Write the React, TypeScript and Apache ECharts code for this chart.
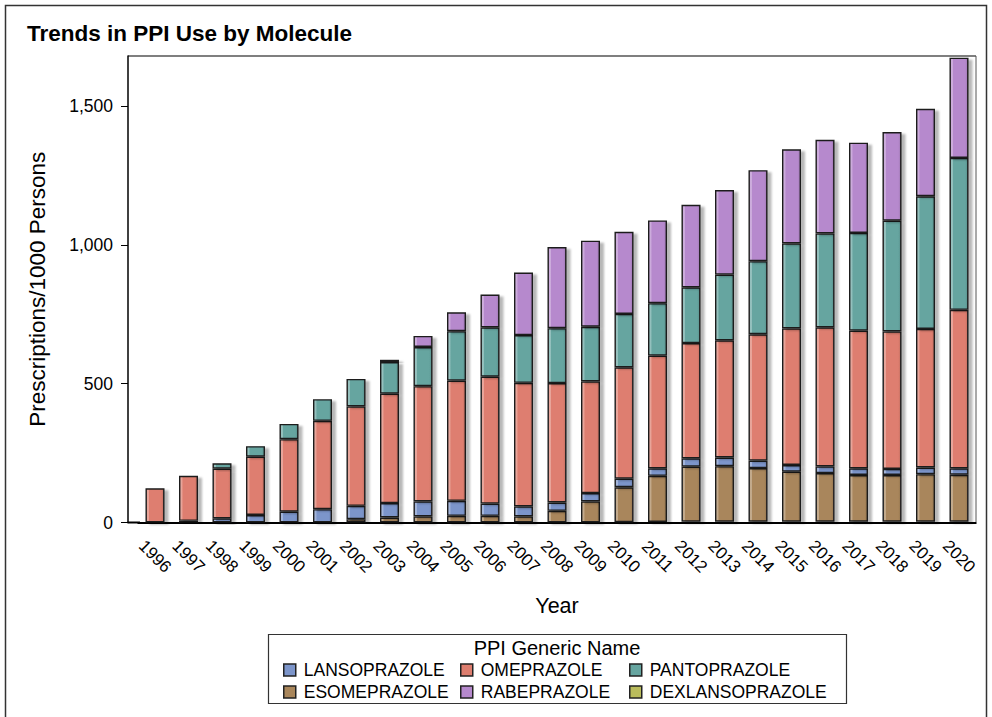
import { useEffect, useRef } from 'react';
import * as echarts from 'echarts';

const years = ['1996','1997','1998','1999','2000','2001','2002','2003','2004','2005','2006','2007','2008','2009','2010','2011','2012','2013','2014','2015','2016','2017','2018','2019','2020'];

const dexlansoprazole = [0,0,0,0,0,0,0,0,0,0,0,0,0,0,1,2,3,3,3,3,3,3,3,3,3];
const esomeprazole = [0,0,0,0,0,0,12,18,22,24,24,22,42,76,126,166,198,200,193,180,175,168,168,171,169];
const lansoprazole = [0,6,15,27,39,48,48,52,54,54,44,36,30,30,31,27,30,31,27,24,24,24,22,24,23];
const omeprazole = [123,162,179,210,261,318,358,394,415,433,457,445,430,402,401,406,415,422,455,492,501,496,495,499,571];
const pantoprazole = [0,0,19,38,55,78,99,114,141,178,178,172,198,197,192,189,201,237,263,306,338,352,399,478,547];
const rabeprazole = [0,0,0,0,0,0,0,8,40,68,118,225,292,310,296,298,297,304,328,339,337,325,319,315,361];

const yTicks = [0, 500, 1000, 1500];

const legendColumns = [
  ['LANSOPRAZOLE', 'ESOMEPRAZOLE'],
  ['OMEPRAZOLE', 'RABEPRAZOLE'],
  ['PANTOPRAZOLE', 'DEXLANSOPRAZOLE'],
];

const FONT = '"Liberation Sans", Arial, Helvetica, sans-serif';

function mix(hex: string, target: number, amt: number) {
  const n = parseInt(hex.slice(1), 16);
  const r = (n >> 16) & 255, g = (n >> 8) & 255, b = n & 255;
  const f = (c: number) => Math.round(c + (target - c) * amt);
  return `rgb(${f(r)},${f(g)},${f(b)})`;
}

function fill(base: string) {
  return new echarts.graphic.LinearGradient(0, 0, 1, 0, [
    { offset: 0, color: mix(base, 255, 0.3) },
    { offset: 0.13, color: mix(base, 255, 0.3) },
    { offset: 0.18, color: base },
    { offset: 0.85, color: base },
    { offset: 1, color: mix(base, 0, 0.12) },
  ]);
}

export default function App() {
  const ref = useRef<HTMLDivElement>(null);
  useEffect(() => {
    if (!ref.current) return;
    const chart = echarts.init(ref.current, undefined, { renderer: 'svg' });

    const defs = [
      { name: 'DEXLANSOPRAZOLE', data: dexlansoprazole, color: '#BABC5C' },
      { name: 'ESOMEPRAZOLE', data: esomeprazole, color: '#A9865B' },
      { name: 'LANSOPRAZOLE', data: lansoprazole, color: '#7C95CA' },
      { name: 'OMEPRAZOLE', data: omeprazole, color: '#DE7E6F' },
      { name: 'PANTOPRAZOLE', data: pantoprazole, color: '#66A5A0' },
      { name: 'RABEPRAZOLE', data: rabeprazole, color: '#B689CD' },
    ];

    const series = defs.map((d) => ({
      type: 'bar',
      name: d.name,
      stack: 'total',
      barWidth: 19,
      data: d.data.map((v) => (v === 0 ? null : v)),
      itemStyle: {
        color: fill(d.color),
        borderColor: '#1c1c1c',
        borderWidth: 1.4,
        shadowColor: 'rgba(0,0,0,0.28)',
        shadowBlur: 2,
        shadowOffsetX: 4,
        shadowOffsetY: 2,
      },
      emphasis: { disabled: true },
    }));

    const colorOf: Record<string, string> = {};
    defs.forEach((d) => (colorOf[d.name] = d.color));

    const legendLefts = [278, 455, 624];
    const legends = legendColumns.map((col, i) => ({
      orient: 'vertical',
      left: legendLefts[i],
      top: 656,
      itemWidth: 12,
      itemHeight: 12,
      itemGap: 4,
      icon: 'rect',
      selectedMode: false,
      data: col.map((n) => ({
        name: n,
        itemStyle: { color: colorOf[n], borderColor: '#222', borderWidth: 1.5, shadowBlur: 0, shadowOffsetX: 0, shadowOffsetY: 0 },
      })),
      textStyle: { fontFamily: FONT, fontSize: 17.5, color: '#000', padding: [0, 0, 0, 3] },
    }));

    chart.setOption({
      animation: false,
      backgroundColor: '#fff',
      textStyle: { fontFamily: FONT },
      title: {
        text: 'Trends in PPI Use by Molecule',
        left: 27,
        top: 22,
        padding: 0,
        textStyle: { fontFamily: FONT, fontSize: 22.5, fontWeight: 'bold', color: '#000' },
      },
      legend: legends,
      grid: { left: 138.25, right: 16.25, top: 56, bottom: 194.5, containLabel: false },
      xAxis: {
        type: 'category',
        data: years,
        name: 'Year',
        nameLocation: 'middle',
        nameGap: 72,
        nameTextStyle: { fontFamily: FONT, fontSize: 21.5, color: '#000' },
        axisLine: { lineStyle: { color: '#000', width: 2 } },
        axisTick: { alignWithLabel: true, length: 8, lineStyle: { color: '#000', width: 1 } },
        axisLabel: {
          rotate: -45,
          align: 'center',
          verticalAlign: 'middle',
          margin: 34,
          fontFamily: FONT,
          fontSize: 17,
          color: '#000',
          interval: 0,
        },
      },
      yAxis: {
        type: 'value',
        min: 0,
        max: 1680,
        offset: 10.25,
        name: 'Prescriptions/1000 Persons',
        nameLocation: 'middle',
        nameGap: 79,
        nameTextStyle: { fontFamily: FONT, fontSize: 22.5, color: '#000' },
        splitLine: { show: false },
        axisLine: { show: true, lineStyle: { color: '#000', width: 1.5 } },
        axisTick: { show: true, length: 7, customValues: yTicks, lineStyle: { color: '#000', width: 1 } },
        axisLabel: {
          customValues: yTicks,
          margin: 15,
          fontFamily: FONT,
          fontSize: 17.5,
          color: '#000',
          formatter: (v: number) => v.toLocaleString('en-US'),
        },
      },
      graphic: [
        { type: 'rect', shape: { x: 5.5, y: 5.5, width: 981, height: 730 }, style: { fill: 'none', stroke: '#333', lineWidth: 1.5 }, silent: true, z: -1 },
        { type: 'line', shape: { x1: 128, y1: 56, x2: 976, y2: 56 }, style: { stroke: '#555', lineWidth: 1.5 }, silent: true },
        { type: 'line', shape: { x1: 976, y1: 56, x2: 976, y2: 522 }, style: { stroke: '#555', lineWidth: 1 }, silent: true },
        { type: 'line', shape: { x1: 127.5, y1: 522.5, x2: 140, y2: 522.5 }, style: { stroke: '#000', lineWidth: 2 }, silent: true },
        { type: 'rect', shape: { x: 268.5, y: 634.5, width: 578, height: 69 }, style: { fill: 'none', stroke: '#333', lineWidth: 1.2 }, silent: true },
        { type: 'text', x: 557, y: 648, style: { text: 'PPI Generic Name', fontFamily: FONT, fontSize: 20, fill: '#000', textAlign: 'center', textVerticalAlign: 'middle' }, silent: true },
      ],
      series,
    });
    return () => chart.dispose();
  }, []);
  return <div ref={ref} style={{ position: 'fixed', left: 0, top: 0, width: 992, height: 717, background: '#fff' }} />;
}
